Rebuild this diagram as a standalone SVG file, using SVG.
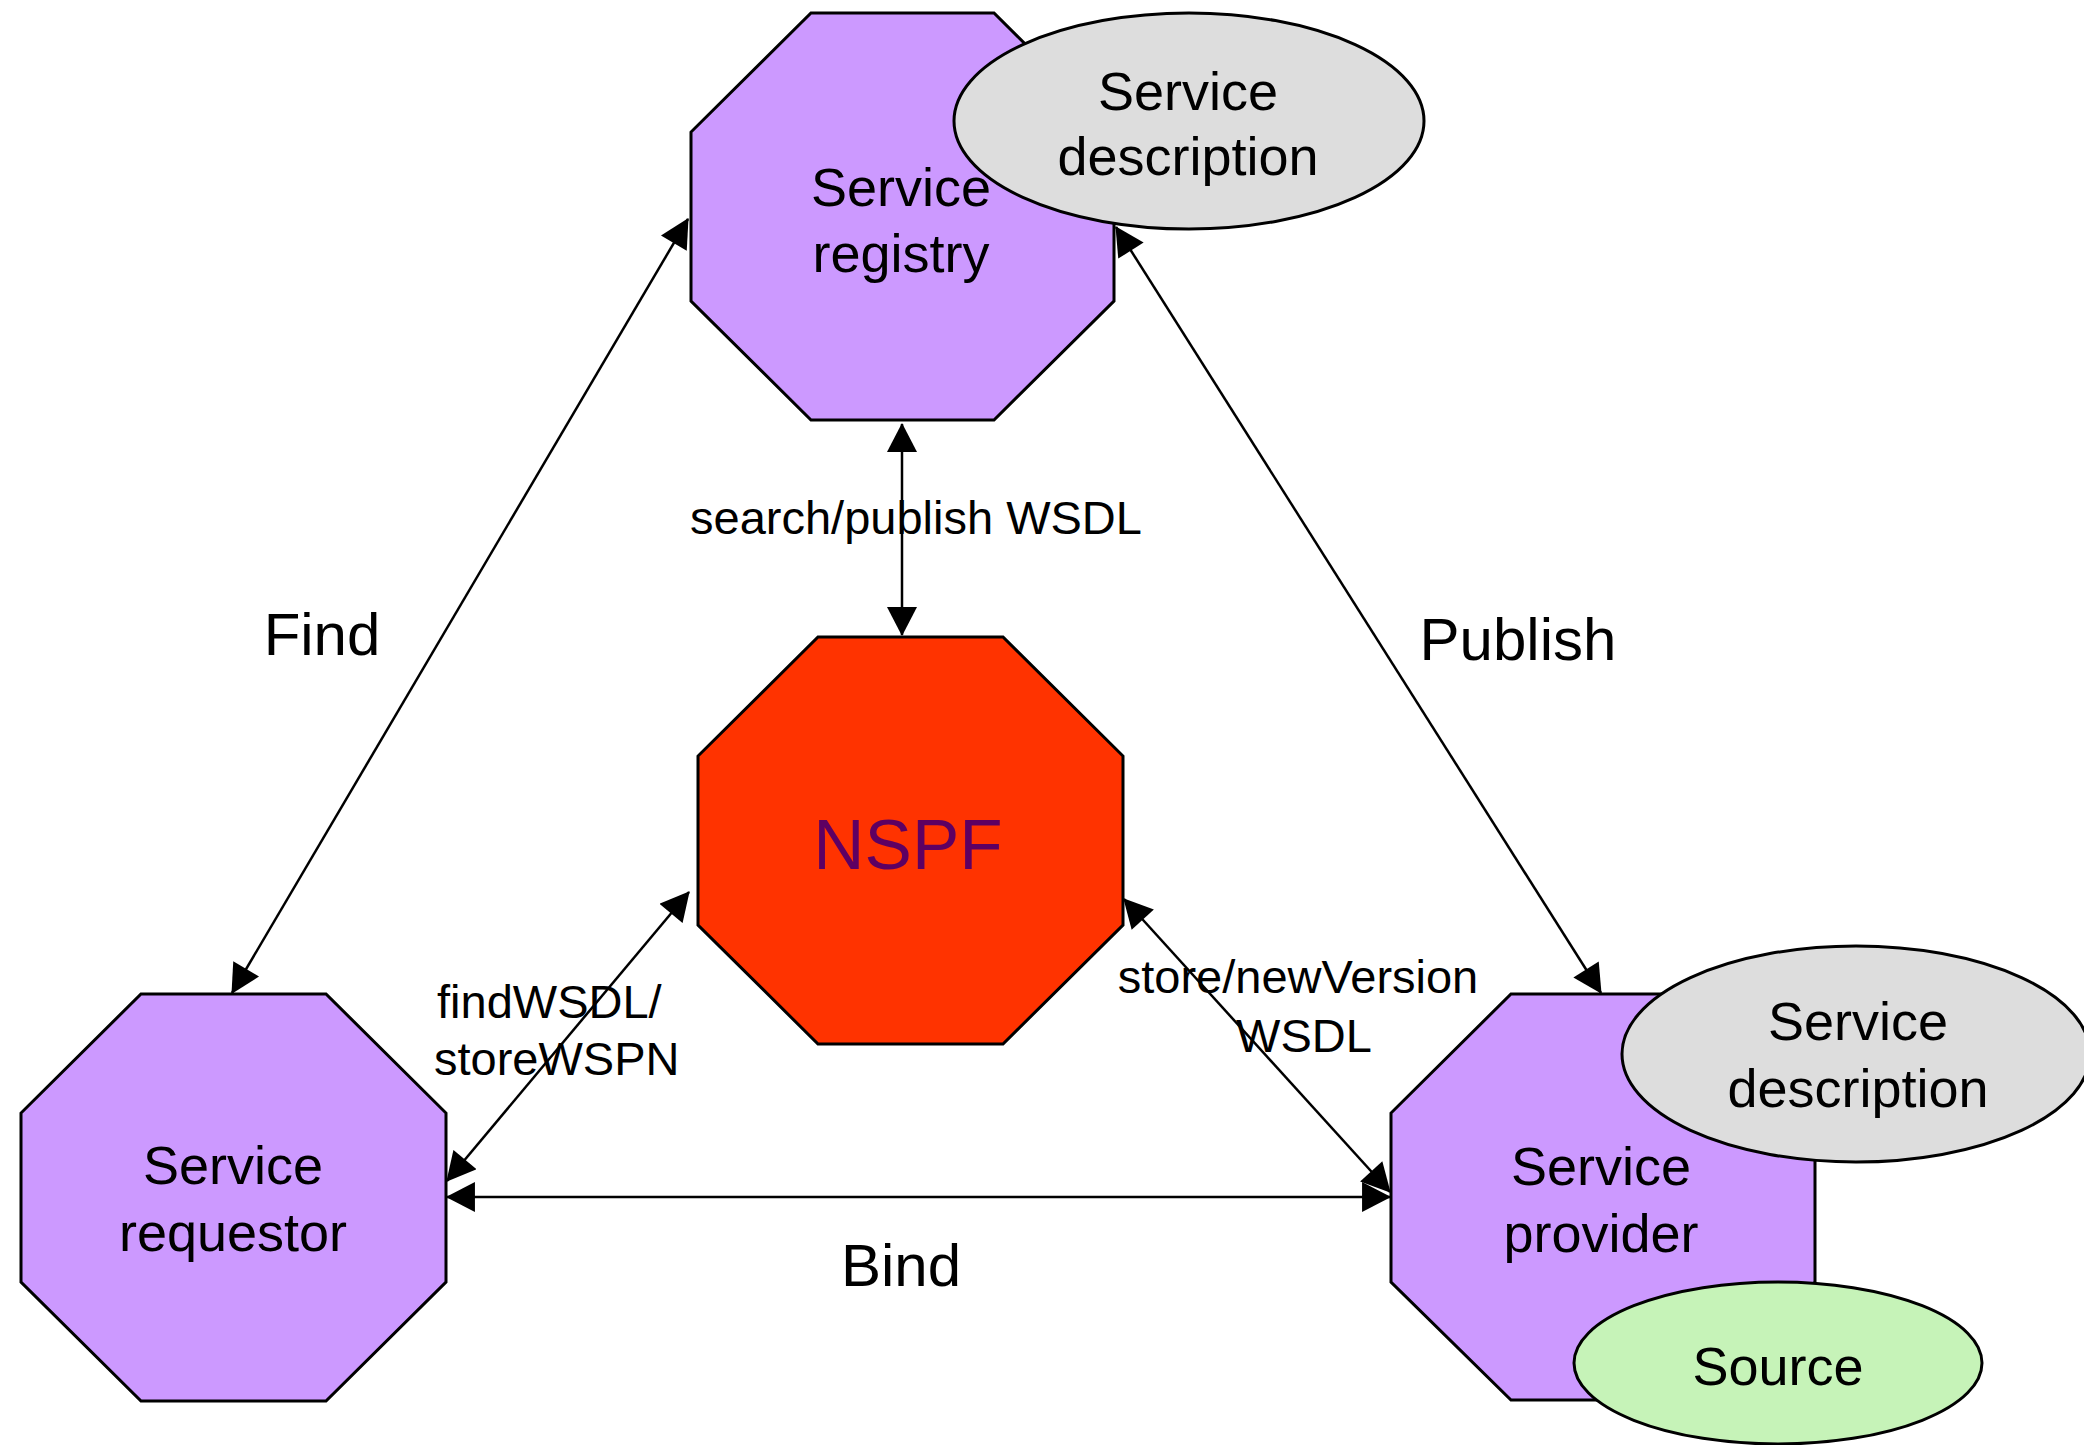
<svg xmlns="http://www.w3.org/2000/svg" width="2084" height="1445" viewBox="0 0 2084 1445">
  <style>
    .oct { fill: #CC99FF; stroke: #000; stroke-width: 3; stroke-linejoin: miter; }
    .core { fill: #FF3300; stroke: #000; stroke-width: 3; }
    .doc { fill: #DDDDDD; stroke: #000; stroke-width: 3; }
    .src { fill: #C6F3B8; stroke: #000; stroke-width: 3; }
    .lbl { font-family: "Liberation Sans", Arial, sans-serif; font-size: 54px; fill: #000; text-anchor: middle; }
    .big { font-family: "Liberation Sans", Arial, sans-serif; font-size: 60px; fill: #000; text-anchor: middle; }
    .small { font-family: "Liberation Sans", Arial, sans-serif; font-size: 47px; fill: #000; text-anchor: middle; }
    .small.left { text-anchor: start; }
    .conn { stroke: #000; stroke-width: 2.5; fill: none; marker-start: url(#arrow); marker-end: url(#arrow); }
  </style>
  <defs>
    <marker id="arrow" markerUnits="userSpaceOnUse" markerWidth="30" markerHeight="30" viewBox="0 0 28 29" refX="27" refY="14.5" orient="auto-start-reverse">
      <path d="M0,0 L28,14.5 L0,29 z" fill="#000"/>
    </marker>
  </defs>

  <rect width="2084" height="1445" fill="#FFFFFF"/>

  <!-- Service registry with its description -->
  <g id="registry">
    <polygon class="oct" points="811,13 994,13 1114,132 1114,301 994,420 811,420 691,301 691,132"/>
    <text class="lbl" x="901" y="206">Service</text>
    <text class="lbl" x="901" y="272">registry</text>
  </g>
  <g id="registry-description">
    <ellipse class="doc" cx="1189" cy="121" rx="235" ry="108"/>
    <text class="lbl" x="1188" y="110">Service</text>
    <text class="lbl" x="1188" y="175">description</text>
  </g>

  <!-- NSPF core -->
  <g id="nspf">
    <polygon class="core" points="818,637 1003,637 1123,756 1123,925 1003,1044 818,1044 698,925 698,756"/>
    <text x="908" y="869" font-family="Liberation Sans, Arial, sans-serif" font-size="71" fill="#5E0062" text-anchor="middle">NSPF</text>
  </g>

  <!-- Service requestor -->
  <g id="requestor">
    <polygon class="oct" points="141,994 326,994 446,1113 446,1282 326,1401 141,1401 21,1282 21,1113"/>
    <text class="lbl" x="233" y="1184">Service</text>
    <text class="lbl" x="233" y="1251">requestor</text>
  </g>

  <!-- Service provider with description and source -->
  <g id="provider">
    <polygon class="oct" points="1511,994 1695,994 1815,1113 1815,1282 1695,1400 1511,1400 1391,1282 1391,1113"/>
    <text class="lbl" x="1601" y="1185">Service</text>
    <text class="lbl" x="1601" y="1252">provider</text>
  </g>
  <g id="provider-description">
    <ellipse class="doc" cx="1856" cy="1054" rx="234" ry="108"/>
    <text class="lbl" x="1858" y="1040">Service</text>
    <text class="lbl" x="1858" y="1107">description</text>
  </g>
  <g id="provider-source">
    <ellipse class="src" cx="1778" cy="1363" rx="204" ry="81"/>
    <text class="lbl" x="1778" y="1385">Source</text>
  </g>

  <!-- Edge labels -->
  <g id="labels">
    <text class="big" x="322" y="655">Find</text>
    <text class="big" x="1518" y="660">Publish</text>
    <text class="big" x="901" y="1286">Bind</text>
    <text class="small" x="916" y="534">search/publish WSDL</text>
    <text class="small left" x="437" y="1018">findWSDL/</text>
    <text class="small left" x="434" y="1075">storeWSPN</text>
    <text class="small" x="1298" y="993">store/newVersion</text>
    <text class="small" x="1304" y="1052">WSDL</text>
  </g>

  <!-- Connectors (double-headed) -->
  <g id="connectors">
    <line class="conn" x1="688" y1="219" x2="232" y2="993"/>
    <line class="conn" x1="1116" y1="227" x2="1601" y2="993"/>
    <line class="conn" x1="902" y1="424" x2="902" y2="635"/>
    <line class="conn" x1="689" y1="892" x2="447" y2="1181"/>
    <line class="conn" x1="1124" y1="899" x2="1390" y2="1192"/>
    <line class="conn" x1="447" y1="1197" x2="1390" y2="1197"/>
  </g>
</svg>
